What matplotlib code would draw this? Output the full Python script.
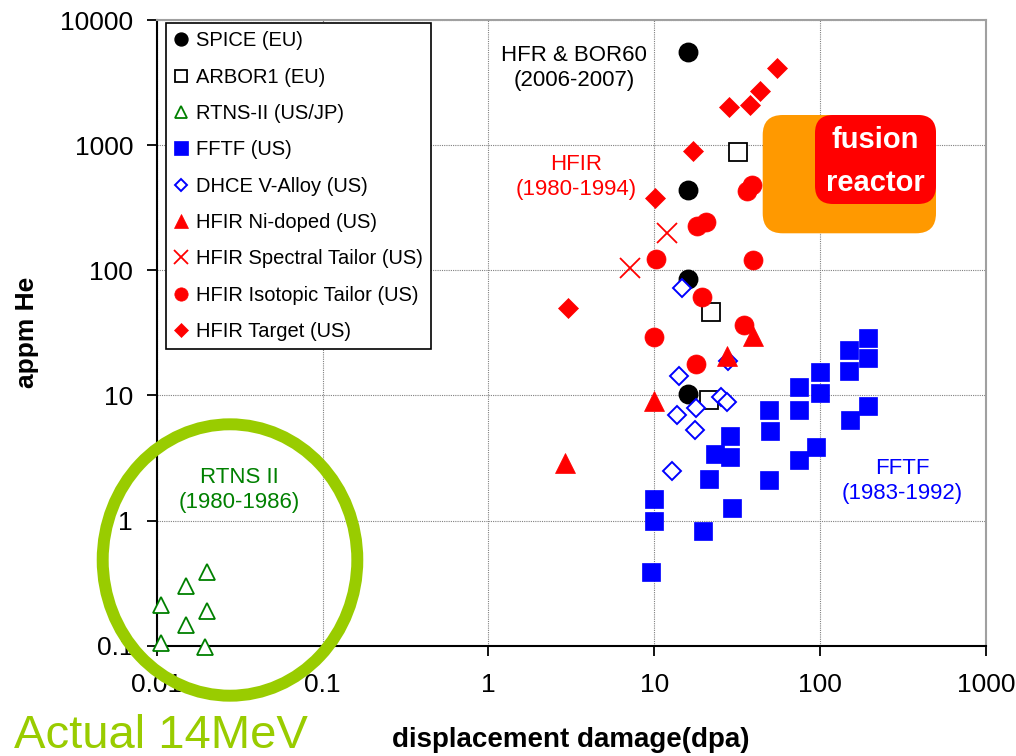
import matplotlib
matplotlib.use("Agg")
import matplotlib.pyplot as plt
from matplotlib.patches import Ellipse, FancyBboxPatch
from matplotlib.ticker import FixedLocator, FixedFormatter, NullLocator

plt.rcParams['font.family'] = ['Liberation Sans', 'DejaVu Sans']

# ---- data: displacement damage (dpa) vs helium content (appm) ----
spice_dpa = [16, 16, 16, 16]
spice_he = [5500, 440, 85, 10.2]

arbor_dpa = [32, 22, 21.5]
arbor_he = [880, 46, 9.2]

rtns_dpa = [0.020, 0.015, 0.0106, 0.020, 0.015, 0.0106, 0.0195]
rtns_he = [0.39, 0.30, 0.21, 0.19, 0.146, 0.106, 0.098]

fftf_dpa = [9.6, 9.9, 9.9, 19.7, 21.4, 23.2, 28.6, 28.6, 29.5, 49, 50, 49,
            75, 75, 75, 95, 100, 100, 150, 150, 152, 195, 195, 195]
fftf_he = [0.39, 1.0, 1.5, 0.83, 2.15, 3.4, 4.7, 3.2, 1.26, 7.6, 5.2, 2.1,
           11.6, 7.7, 3.05, 3.9, 15.4, 10.5, 23, 15.6, 6.4, 29, 20, 8.2]

dhce_dpa = [14.6, 14.1, 27.7, 25.2, 27.4, 17.9, 13.8, 17.6, 12.8]
dhce_he = [72, 14.3, 19, 9.8, 8.8, 8.0, 7.0, 5.3, 2.5]

nidoped_dpa = [10, 2.9, 39.5, 27.5]
nidoped_he = [9.0, 2.9, 30, 20.5]

spectral_dpa = [12, 7.1]
spectral_he = [200, 105]

isotopic_dpa = [36, 39, 18, 20.4, 10.2, 39.4, 19.3, 10, 34.7, 17.8]
isotopic_he = [430, 480, 225, 243, 124, 120, 61, 29.3, 36.3, 17.7]

target_dpa = [3.0, 10.1, 17.2, 28.3, 37.7, 43.3, 55]
target_he = [50, 375, 900, 2000, 2100, 2700, 4150]

x_ticks = [0.01, 0.1, 1, 10, 100, 1000]
x_ticklabels = ['0.01', '0.1', '1', '10', '100', '1000']
y_ticks = [0.1, 1, 10, 100, 1000, 10000]
y_ticklabels = ['0.1', '1', '10', '100', '1000', '10000']

W, H = 1016, 756


def fx(px):
    return px / W


def fy(py):
    return 1 - py / H


fig = plt.figure(figsize=(W / 100, H / 100), dpi=100)
ax = fig.add_axes([fx(156.7), fy(645.7), (986 - 156.7) / W, (645.7 - 20) / H])
ax.set_xscale('log')
ax.set_yscale('log')
ax.set_xlim(0.01, 1000)
ax.set_ylim(0.1, 10000)
ax.set_axisbelow(True)

RED = '#FF0000'
BLUE = '#0000FF'
GREEN = '#008000'
LIME = '#99CC00'

series = [
    ('SPICE (EU)', spice_dpa, spice_he,
     dict(marker='o', ms=13.3, mfc='black', mec='black', mew=1)),
    ('ARBOR1 (EU)', arbor_dpa, arbor_he,
     dict(marker='s', ms=12.5, mfc='white', mec='black', mew=1.3)),
    ('RTNS-II (US/JP)', rtns_dpa, rtns_he,
     dict(marker='^', ms=11.5, mfc='white', mec=GREEN, mew=1.3)),
    ('FFTF (US)', fftf_dpa, fftf_he,
     dict(marker='s', ms=13.5, mfc=BLUE, mec=BLUE, mew=0.5)),
    ('DHCE V-Alloy (US)', dhce_dpa, dhce_he,
     dict(marker='D', ms=9.0, mfc='white', mec=BLUE, mew=1.4)),
    ('HFIR Ni-doped (US)', nidoped_dpa, nidoped_he,
     dict(marker='^', ms=14.9, mfc=RED, mec=RED, mew=0.5)),
    ('HFIR Spectral Tailor (US)', spectral_dpa, spectral_he,
     dict(marker='x', ms=13.9, mfc=RED, mec=RED, mew=1.3)),
    ('HFIR Isotopic Tailor (US)', isotopic_dpa, isotopic_he,
     dict(marker='o', ms=13.7, mfc=RED, mec=RED, mew=0.5)),
    ('HFIR Target (US)', target_dpa, target_he,
     dict(marker='D', ms=9.8, mfc=RED, mec=RED, mew=0.5)),
]

for label, xs, ys, style in series:
    ax.plot(xs, ys, linestyle='none', label=label, clip_on=False, zorder=3, **style)

# axes styling
ax.grid(True, which='major', color='#808080', linestyle=(0, (1, 1)), linewidth=0.8)
ax.xaxis.set_major_locator(FixedLocator(x_ticks))
ax.xaxis.set_major_formatter(FixedFormatter(x_ticklabels))
ax.yaxis.set_major_locator(FixedLocator(y_ticks))
ax.yaxis.set_major_formatter(FixedFormatter(y_ticklabels))
ax.xaxis.set_minor_locator(NullLocator())
ax.yaxis.set_minor_locator(NullLocator())
ax.tick_params(direction='out', length=7, width=1.3, labelsize=19,
               top=False, right=False, colors='black')
ax.tick_params(axis='x', pad=13)
ax.tick_params(axis='y', pad=10)
for side in ('left', 'bottom'):
    ax.spines[side].set_color('black')
    ax.spines[side].set_linewidth(1.5)
for side in ('top', 'right'):
    ax.spines[side].set_color('#A0A0A0')
    ax.spines[side].set_linewidth(1.5)

ax.set_xlabel('displacement damage(dpa)', fontsize=20, fontweight='bold')
ax.xaxis.set_label_coords(0.4996, (645.7 - 740) / 625.7)
ax.xaxis.label.set_va('center')
ax.set_ylabel('appm He', fontsize=19, fontweight='bold')
ax.yaxis.set_label_coords((27 - 156.7) / 829.3, 0.50)
ax.yaxis.label.set_va('center')

leg = ax.legend(loc='upper left', bbox_to_anchor=((166 - 156.7) / 829.3, 1 - (23.3 - 20) / 625.7),
                borderaxespad=0, fontsize=14.5, markerscale=0.7, labelspacing=0.86,
                handlelength=0.7, handletextpad=0.39, borderpad=0.4, numpoints=1,
                frameon=True, fancybox=False, edgecolor='black', framealpha=1)
leg.get_frame().set_linewidth(1.2)

# fusion reactor region
orange_box = FancyBboxPatch((7.627, 5.227), 1.733, 1.183,
                            boxstyle='round,pad=0,rounding_size=0.2',
                            transform=fig.dpi_scale_trans, facecolor='#FF9900',
                            edgecolor='none', zorder=1)
red_box = FancyBboxPatch((8.15, 5.52), 1.21, 0.89,
                         boxstyle='round,pad=0,rounding_size=0.18',
                         transform=fig.dpi_scale_trans, facecolor=RED,
                         edgecolor='none', zorder=1.1)
ax.add_patch(orange_box)
ax.add_patch(red_box)
fig.text(fx(875), fy(140), 'fusion', color='white', fontsize=21, fontweight='bold',
         ha='center', va='center', zorder=4)
fig.text(fx(875), fy(183.3), 'reactor', color='white', fontsize=21, fontweight='bold',
         ha='center', va='center', zorder=4)

# facility annotations
fig.text(fx(574), fy(68), 'HFR & BOR60\n(2006-2007)', color='black', fontsize=16,
         ha='center', va='center', linespacing=1.3)
fig.text(fx(576), fy(177), 'HFIR\n(1980-1994)', color=RED, fontsize=16,
         ha='center', va='center', linespacing=1.3)
fig.text(fx(239), fy(490), 'RTNS II\n(1980-1986)', color=GREEN, fontsize=16,
         ha='center', va='center', linespacing=1.3)
fig.text(fx(902), fy(481), 'FFTF\n(1983-1992)', color=BLUE, fontsize=16,
         ha='center', va='center', linespacing=1.3)

# 14 MeV highlight ring and caption
ring = Ellipse((2.30, 1.96), 2.546, 2.714, transform=fig.dpi_scale_trans,
               fill=False, edgecolor=LIME, linewidth=8.6, zorder=10)
fig.add_artist(ring)
fig.text(fx(14), fy(748), 'Actual 14MeV', color=LIME, fontsize=34,
         ha='left', va='baseline')

fig.savefig('out.png', dpi=100)
